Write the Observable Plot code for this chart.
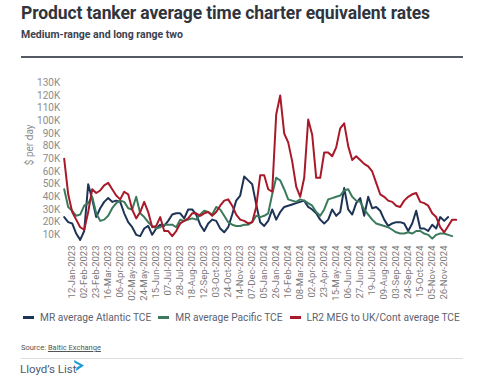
<!DOCTYPE html>
<html>
<head>
<meta charset="utf-8">
<script src="https://cdn.jsdelivr.net/npm/d3@7"></script>
<script src="https://cdn.jsdelivr.net/npm/@observablehq/plot@0.6"></script>
<style>
  html, body { margin: 0; padding: 0; background: #fff; }
  #wrap { position: relative; width: 500px; height: 388px; font-family: Roboto, "Noto Sans", sans-serif; overflow: hidden; }
  .title { position: absolute; left: 21px; top: 3px; font-size: 17.5px; font-weight: 700; color: #30343d; white-space: nowrap; letter-spacing: -0.1px; }
  .subtitle { position: absolute; left: 21px; top: 28px; font-size: 10.5px; font-weight: 700; color: #3c4250; white-space: nowrap; }
  .rule { position: absolute; left: 21px; top: 56px; width: 442px; height: 2px; background: #545a66; }
  #chart { position: absolute; left: 0; top: 62px; }
  .legend { position: absolute; left: 23px; top: 312px; font-size: 10.2px; color: #5c6270; white-space: nowrap; display: flex; align-items: center; }
  .legend .sw { display: inline-block; width: 11px; height: 2.5px; margin-right: 6px; }
  .legend .item { display: flex; align-items: center; margin-right: 7px; }
  .source { position: absolute; left: 21px; top: 343px; font-size: 7.5px; color: #555; }
  .source u { color: #555; }
  .rule2 { position: absolute; left: 21px; top: 358px; width: 442px; height: 1px; background: #dcdcdc; }
  .logo { position: absolute; left: 20px; top: 362px; font-size: 11.5px; color: #4f5a6e; white-space: nowrap; }
  .logo svg { position: absolute; left: 53px; top: -3px; }
</style>
</head>
<body>
<div id="wrap">
  <div class="title">Product tanker average time charter equivalent rates</div>
  <div class="subtitle">Medium-range and long range two</div>
  <div class="rule"></div>
  <div id="chart"></div>
  <div class="legend" id="legend"></div>
  <div class="source">Source: <u>Baltic Exchange</u></div>
  <div class="rule2"></div>
  <div class="logo">Lloyd’s List<svg width="12" height="13" viewBox="0 0 12 13"><path d="M1 1 L11 6.5 L3 12 L3.5 8.5 L7 6.5 L1.5 3.8 Z" fill="#1f9bd7"/></svg></div>
</div>
<script>
// Tick labels (every 15 business days)
const tickLabels = ["12-Jan-2023","02-Feb-2023","23-Feb-2023","16-Mar-2023","06-Apr-2023","02-May-2023","24-May-2023","15-Jun-2023","07-Jul-2023","28-Jul-2023","18-Aug-2023","12-Sep-2023","03-Oct-2023","24-Oct-2023","14-Nov-2023","07-Dec-2023","05-Jan-2024","26-Jan-2024","16-Feb-2024","08-Mar-2024","02-Apr-2024","23-Apr-2024","15-May-2024","06-Jun-2024","27-Jun-2024","19-Jul-2024","09-Aug-2024","03-Sep-2024","24-Sep-2024","15-Oct-2024","05-Nov-2024","26-Nov-2024"];
const tickIndex = [10,25,40,55,70,85,100,115,130,145,160,175,190,205,220,235,250,265,280,295,310,325,340,355,370,385,400,415,430,445,460,475];

// Series values, $000/day, sampled every 5 business days from the first day
const atlantic = [24,20,19,11,6,13,50,38,24,31,36,39,36,37,36,27,20,16,10,9,15,17,10,15,18,17,21,26,27,27,23,30,30,26,18,13,19,22,21,15,12,16,26,37,41,56,53,50,34,20,17,21,30,22,28,32,33,34,35,36,37,32,30,27,22,19,22,30,25,28,47,30,26,35,39,25,40,31,32,29,22,17,19,20,20,19,13,19,29,15,15,13,18,15,24,21,24];
const pacific = [46,32,29,25,26,33,35,40,27,21,22,25,31,35,37,36,31,30,40,27,24,20,17,15,16,18,18,18,16,22,21,22,23,22,26,29,28,26,32,30,25,20,18,17,17,18,18,20,25,24,25,27,42,55,53,46,38,37,36,38,37,35,33,28,25,30,38,39,40,41,45,46,40,37,36,30,26,22,19,18,17,16,14,12,11,11,12,11,13,13,11,10,7,10,11,11,10,9];
const lr2 = [70,42,28,22,16,14,28,46,43,45,49,51,46,41,38,44,42,30,23,28,36,28,16,17,24,13,13,9,13,19,21,23,27,27,25,27,28,25,28,33,37,38,33,26,22,21,19,20,32,57,57,46,44,105,120,90,83,68,48,40,55,101,89,55,55,75,75,72,79,94,98,80,69,72,69,66,64,60,51,42,40,37,36,33,32,37,40,42,43,36,35,33,27,24,16,12,17,22,22];
const stepDays = 5;

const seriesNames = ["MR average Atlantic TCE", "MR average Pacific TCE", "LR2 MEG to UK/Cont average TCE"];
const seriesColors = ["#1d3456", "#3b7a5c", "#a8192a"];
const yTicks = [10,20,30,40,50,60,70,80,90,100,110,120,130];

const rows = [];
[atlantic, pacific, lr2].forEach((arr, s) => {
  arr.forEach((v, i) => rows.push({series: seriesNames[s], idx: i * stepDays, value: v}));
});

const chart = Plot.plot({
  width: 500,
  height: 240,
  marginLeft: 63.7,
  marginRight: 44.3,
  marginTop: 20.3,
  marginBottom: 55,
  style: {fontFamily: "Roboto, 'Noto Sans', sans-serif", background: "transparent"},
  x: {type: "linear", domain: [0, 490], axis: null},
  y: {domain: [0, 130], axis: null},
  color: {domain: seriesNames, range: seriesColors},
  marks: [
    Plot.axisY({ticks: yTicks, tickSize: 0, tickPadding: 4, tickFormat: d => d + "K", fontSize: 10, fill: "#8c8c8c", label: null}),
    Plot.axisX({ticks: tickIndex, tickFormat: (d) => tickLabels[tickIndex.indexOf(d)], tickRotate: -90, tickSize: 0, tickPadding: -2, fontSize: 9.5, fill: "#7a7a7a", label: null}),
    Plot.text(["$ per day"], {frameAnchor: "left", dx: -34.7, rotate: -90, fontSize: 10, fill: "#8c8c8c"}),
    Plot.line(rows, {x: "idx", y: "value", z: "series", stroke: "series", strokeWidth: 2, curve: "linear"})
  ]
});
document.getElementById("chart").appendChild(chart);

const legend = document.getElementById("legend");
seriesNames.forEach((n, i) => {
  const it = document.createElement("span");
  it.className = "item";
  it.innerHTML = `<span class="sw" style="background:${seriesColors[i]}"></span>${n}`;
  legend.appendChild(it);
});
</script>
</body>
</html>
